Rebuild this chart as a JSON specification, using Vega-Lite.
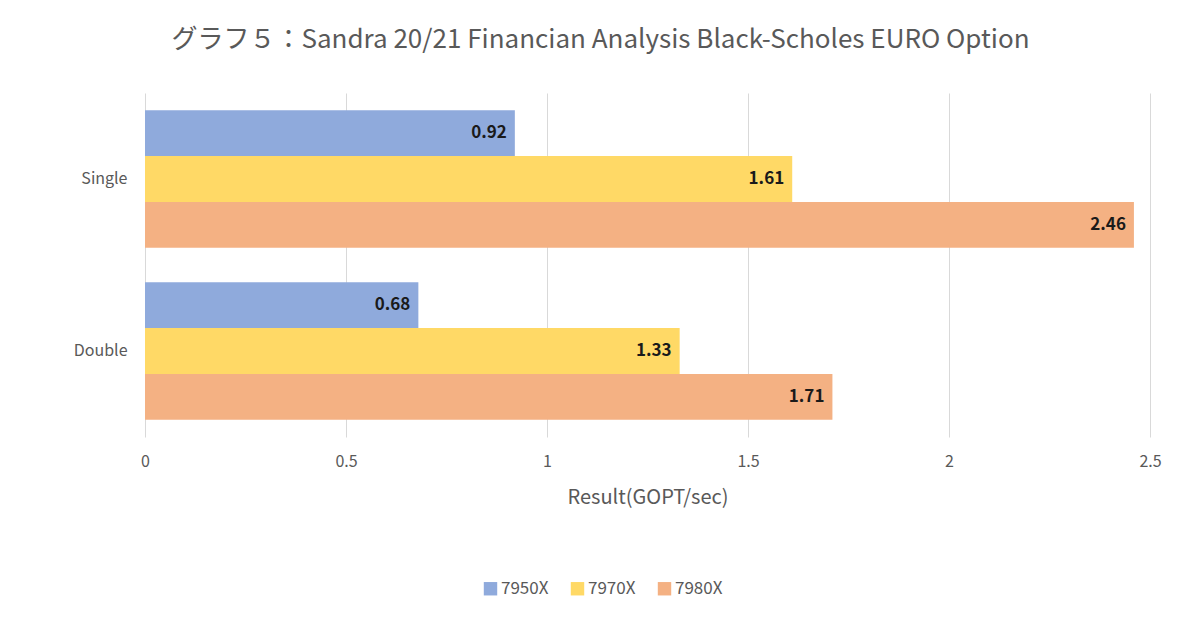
{
  "$schema": "https://vega.github.io/schema/vega-lite/v6.json",
  "width": 1005,
  "height": 344,
  "autosize": {"type": "none"},
  "padding": {"left": 145, "top": 93, "right": 50, "bottom": 187},
  "background": "white",
  "title": {
    "text": "グラフ５：Sandra 20/21 Financian Analysis Black-Scholes EURO Option",
    "font": "Noto Sans CJK JP",
    "fontSize": 26,
    "fontWeight": "normal",
    "color": "#595959",
    "anchor": "middle",
    "dx": -47,
    "offset": 40
  },
  "data": {
    "values": [
      {"type": "Single", "cpu": "7950X", "value": 0.92},
      {"type": "Single", "cpu": "7970X", "value": 1.61},
      {"type": "Single", "cpu": "7980X", "value": 2.46},
      {"type": "Double", "cpu": "7950X", "value": 0.68},
      {"type": "Double", "cpu": "7970X", "value": 1.33},
      {"type": "Double", "cpu": "7980X", "value": 1.71}
    ]
  },
  "encoding": {
    "y": {
      "field": "type",
      "type": "nominal",
      "sort": ["Single", "Double"],
      "scale": {"paddingInner": 0.2, "paddingOuter": 0.1},
      "axis": {
        "title": null,
        "domain": false,
        "ticks": false,
        "labelFont": "Noto Sans CJK JP",
        "labelFontSize": 16,
        "labelColor": "#595959",
        "labelPadding": 18
      }
    },
    "yOffset": {
      "field": "cpu",
      "type": "nominal",
      "sort": ["7950X", "7970X", "7980X"],
      "scale": {"paddingInner": 0, "paddingOuter": 0}
    },
    "x": {
      "field": "value",
      "type": "quantitative",
      "scale": {"domain": [0, 2.5], "nice": false},
      "axis": {
        "values": [0, 0.5, 1, 1.5, 2, 2.5],
        "format": "~g",
        "labelFlush": false,
        "title": "Result(GOPT/sec)",
        "titleFont": "Noto Sans CJK JP",
        "titleFontSize": 20,
        "titleFontWeight": "normal",
        "titleColor": "#595959",
        "titlePadding": 18,
        "domain": false,
        "ticks": false,
        "grid": true,
        "gridColor": "#d9d9d9",
        "gridWidth": 1,
        "labelFont": "Noto Sans CJK JP",
        "labelFontSize": 16,
        "labelColor": "#595959",
        "labelPadding": 16
      }
    }
  },
  "layer": [
    {
      "mark": {"type": "bar"},
      "encoding": {
        "color": {
          "field": "cpu",
          "type": "nominal",
          "sort": ["7950X", "7970X", "7980X"],
          "scale": {"domain": ["7950X", "7970X", "7980X"], "range": ["#8FAADC", "#FFD966", "#F4B183"]},
          "legend": {
            "title": null,
            "orient": "none",
            "direction": "horizontal",
            "legendX": 337,
            "legendY": 487,
            "symbolType": "square",
            "symbolSize": 180,
            "symbolStrokeWidth": 0,
            "labelFont": "Noto Sans CJK JP",
            "labelFontSize": 17,
            "labelColor": "#595959",
            "labelOffset": 2,
            "columnPadding": 20
          }
        }
      }
    },
    {
      "mark": {
        "type": "text",
        "align": "right",
        "baseline": "middle",
        "dx": -8,
        "font": "Noto Sans CJK JP",
        "fontSize": 17,
        "fontWeight": "bold",
        "color": "#1a1a1a"
      },
      "encoding": {
        "text": {"field": "value", "type": "quantitative", "format": ".2f"}
      }
    }
  ],
  "config": {"view": {"stroke": null}}
}
